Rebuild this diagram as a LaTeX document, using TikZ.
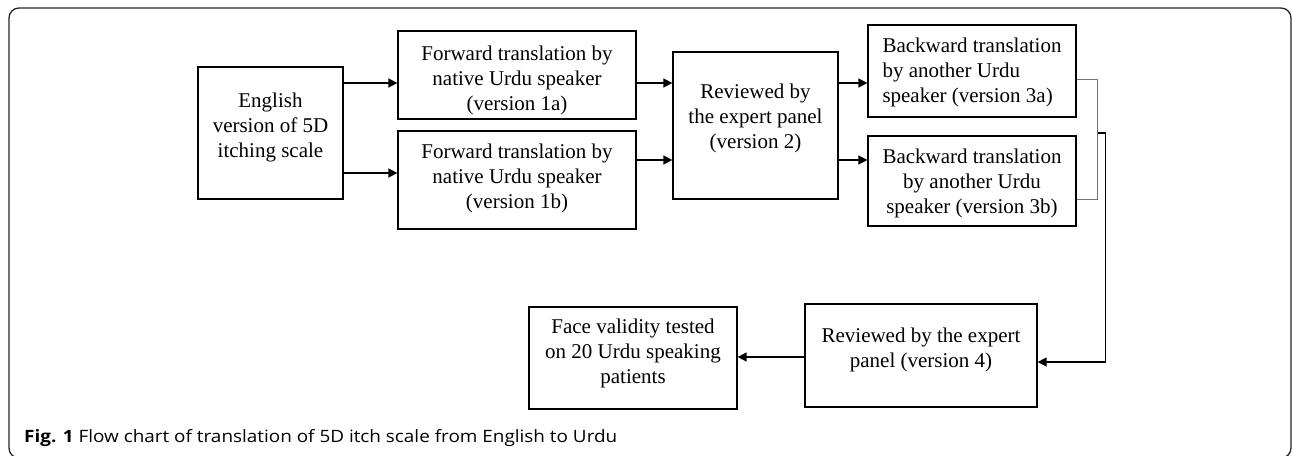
\documentclass[tikz,border=0pt]{standalone}
\usepackage{fontspec}
\setmainfont{Liberation Serif}
\newfontfamily\capfont{Open Sans}
\usetikzlibrary{arrows.meta,calc}
\begin{document}
\begin{tikzpicture}[x=1pt,y=-1pt,
  box/.style={draw=black, line width=1.2pt, align=center, inner sep=0pt,
    font=\fontsize{21}{25}\selectfont},
  arr/.style={draw=black, line width=1.4pt, -{Triangle[length=9pt,width=9pt]}},
  bracket/.style={draw=black!55, line width=0.9pt},
  frame/.style={draw=black!85, line width=1.3pt, rounded corners=10pt}]
\useasboundingbox (0,0) rectangle (1292,455);
\clip (0,0) rectangle (1292,455);

% outer panel
\draw[frame] (9,8) rectangle (1291,458);

% process boxes (text height/depth place the last baseline inside each box)
\node[box, minimum width=145pt, text height=90pt, text depth=42pt] (eng) at (270.5,133)
  {English\\version of 5D\\itching scale};
\node[box, minimum width=238pt, text height=79pt, text depth=9pt] (f1a) at (517,75)
  {Forward translation by\\native Urdu speaker\\(version 1a)};
\node[box, minimum width=238pt, text height=77pt, text depth=21pt] (f1b) at (517,180)
  {Forward translation by\\native Urdu speaker\\(version 1b)};
\node[box, minimum width=165pt, text height=96pt, text depth=51pt] (v2) at (755.5,125.5)
  {Reviewed by\\the expert panel\\(version 2)};
\node[box, align=left, minimum width=208pt, text height=77pt, text depth=15pt] (b3a) at (972,71)
  {Backward translation\\by another Urdu\\speaker (version 3a)};
\node[box, minimum width=208pt, text height=77pt, text depth=13pt] (b3b) at (972,181)
  {Backward translation\\by another Urdu\\speaker (version 3b)};
\node[box, minimum width=232pt, text height=63pt, text depth=40pt] (v4) at (921,355.5)
  {Reviewed by the expert\\panel (version 4)};
\node[box, minimum width=208pt, text height=76pt, text depth=26pt] (face) at (633,358)
  {Face validity tested\\on 20 Urdu speaking\\patients};

% forward translations
\coordinate (p1) at ($(f1a.west)+(0,8)$);
\coordinate (p2) at ($(f1b.west)+(0,-7)$);
\draw[arr] (eng.east |- p1) -- (p1);
\draw[arr] (eng.east |- p2) -- (p2);

% into the first review
\coordinate (q1) at ($(f1a.east)+(0,8)$);
\coordinate (q2) at ($(f1b.east)+(0,-20)$);
\draw[arr] (q1) -- (v2.west |- q1);
\draw[arr] (q2) -- (v2.west |- q2);

% backward translations
\coordinate (r1) at ($(b3a.west)+(0,12)$);
\coordinate (r2) at ($(b3b.west)+(0,-21)$);
\draw[arr] (v2.east |- r1) -- (r1);
\draw[arr] (v2.east |- r2) -- (r2);

% joining bracket and return to the second review
\coordinate (bt) at ($(b3a.east)+(21,8)$);
\coordinate (bb) at ($(b3b.east)+(21,18)$);
\draw[bracket] ($(b3a.east)+(0,8)$) -- (bt) -- (bb) -- (b3b.east |- bb);
\coordinate (bm) at ($(bt)+(0,54)$);
\coordinate (v4in) at ($(v4.east)+(0,6.5)$);
\draw[arr] (bm) -- ++(8,0) |- (v4in);

% final step
\coordinate (v4out) at ($(v4.west)+(0,1.5)$);
\draw[arr] (v4out) -- (face.east |- v4out);

% caption
\node[anchor=base west, inner sep=0pt, font=\capfont\fontsize{17}{20}\selectfont] (cap)
  at (24,442) {\resizebox{593pt}{\height}{\textbf{Fig. 1} Flow chart of translation of 5D itch scale from English to Urdu}};
\end{tikzpicture}
\end{document}
